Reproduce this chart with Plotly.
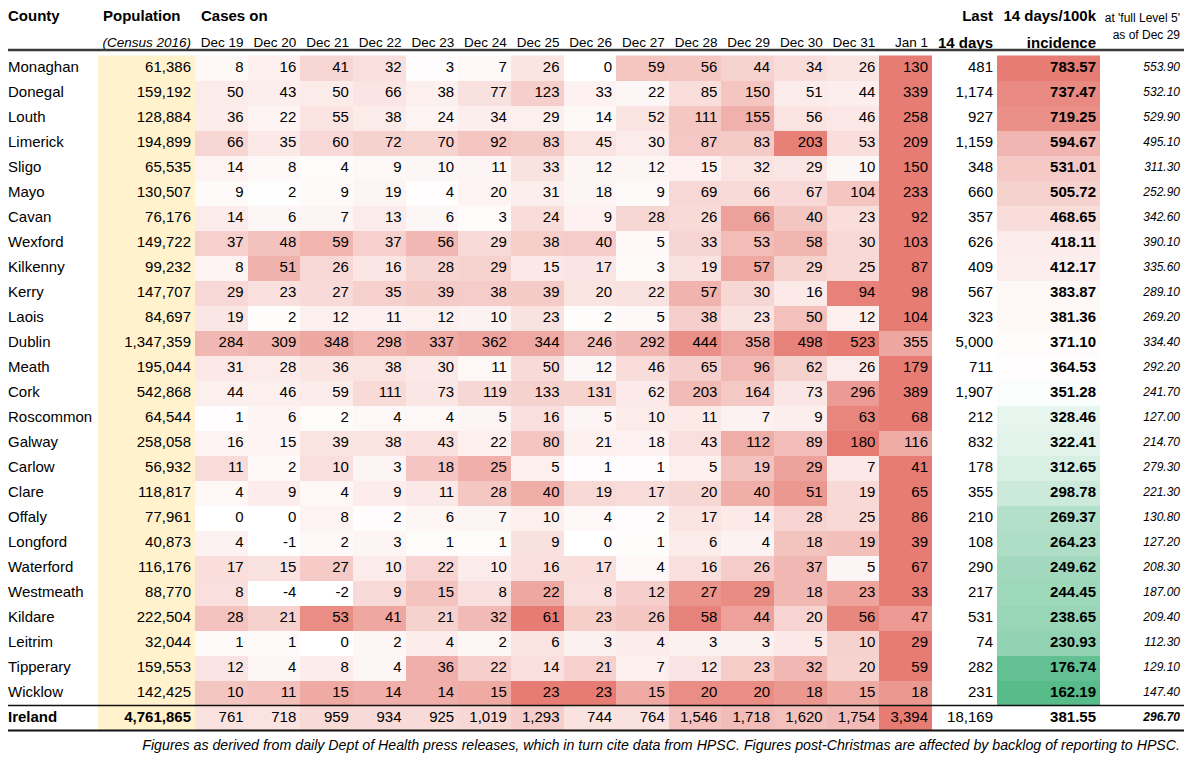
import numpy as np
import plotly.graph_objects as go

# ---------------- data ----------------
counties = ["Monaghan", "Donegal", "Louth", "Limerick", "Sligo", "Mayo", "Cavan", "Wexford",
            "Kilkenny", "Kerry", "Laois", "Dublin", "Meath", "Cork", "Roscommon", "Galway",
            "Carlow", "Clare", "Offaly", "Longford", "Waterford", "Westmeath", "Kildare",
            "Leitrim", "Tipperary", "Wicklow"]
population = [61386, 159192, 128884, 194899, 65535, 130507, 76176, 149722, 99232, 147707,
              84697, 1347359, 195044, 542868, 64544, 258058, 56932, 118817, 77961, 40873,
              116176, 88770, 222504, 32044, 159553, 142425]
dates = ["Dec 19", "Dec 20", "Dec 21", "Dec 22", "Dec 23", "Dec 24", "Dec 25", "Dec 26",
         "Dec 27", "Dec 28", "Dec 29", "Dec 30", "Dec 31", "Jan 1"]
cases = [
    [8, 16, 41, 32, 3, 7, 26, 0, 59, 56, 44, 34, 26, 130],
    [50, 43, 50, 66, 38, 77, 123, 33, 22, 85, 150, 51, 44, 339],
    [36, 22, 55, 38, 24, 34, 29, 14, 52, 111, 155, 56, 46, 258],
    [66, 35, 60, 72, 70, 92, 83, 45, 30, 87, 83, 203, 53, 209],
    [14, 8, 4, 9, 10, 11, 33, 12, 12, 15, 32, 29, 10, 150],
    [9, 2, 9, 19, 4, 20, 31, 18, 9, 69, 66, 67, 104, 233],
    [14, 6, 7, 13, 6, 3, 24, 9, 28, 26, 66, 40, 23, 92],
    [37, 48, 59, 37, 56, 29, 38, 40, 5, 33, 53, 58, 30, 103],
    [8, 51, 26, 16, 28, 29, 15, 17, 3, 19, 57, 29, 25, 87],
    [29, 23, 27, 35, 39, 38, 39, 20, 22, 57, 30, 16, 94, 98],
    [19, 2, 12, 11, 12, 10, 23, 2, 5, 38, 23, 50, 12, 104],
    [284, 309, 348, 298, 337, 362, 344, 246, 292, 444, 358, 498, 523, 355],
    [31, 28, 36, 38, 30, 11, 50, 12, 46, 65, 96, 62, 26, 179],
    [44, 46, 59, 111, 73, 119, 133, 131, 62, 203, 164, 73, 296, 389],
    [1, 6, 2, 4, 4, 5, 16, 5, 10, 11, 7, 9, 63, 68],
    [16, 15, 39, 38, 43, 22, 80, 21, 18, 43, 112, 89, 180, 116],
    [11, 2, 10, 3, 18, 25, 5, 1, 1, 5, 19, 29, 7, 41],
    [4, 9, 4, 9, 11, 28, 40, 19, 17, 20, 40, 51, 19, 65],
    [0, 0, 8, 2, 6, 7, 10, 4, 2, 17, 14, 28, 25, 86],
    [4, -1, 2, 3, 1, 1, 9, 0, 1, 6, 4, 18, 19, 39],
    [17, 15, 27, 10, 22, 10, 16, 17, 4, 16, 26, 37, 5, 67],
    [8, -4, -2, 9, 15, 8, 22, 8, 12, 27, 29, 18, 23, 33],
    [28, 21, 53, 41, 21, 32, 61, 23, 26, 58, 44, 20, 56, 47],
    [1, 1, 0, 2, 4, 2, 6, 3, 4, 3, 3, 5, 10, 29],
    [12, 4, 8, 4, 36, 22, 14, 21, 7, 12, 23, 32, 20, 59],
    [10, 11, 15, 14, 14, 15, 23, 23, 15, 20, 20, 18, 15, 18],
]
last14 = [481, 1174, 927, 1159, 348, 660, 357, 626, 409, 567, 323, 5000, 711, 1907, 212, 832,
          178, 355, 210, 108, 290, 217, 531, 74, 282, 231]
incidence = [783.57, 737.47, 719.25, 594.67, 531.01, 505.72, 468.65, 418.11, 412.17, 383.87,
             381.36, 371.10, 364.53, 351.28, 328.46, 322.41, 312.65, 298.78, 269.37, 264.23,
             249.62, 244.45, 238.65, 230.93, 176.74, 162.19]
level5 = [553.90, 532.10, 529.90, 495.10, 311.30, 252.90, 342.60, 390.10, 335.60, 289.10,
          269.20, 334.40, 292.20, 241.70, 127.00, 214.70, 279.30, 221.30, 130.80, 127.20,
          208.30, 187.00, 209.40, 112.30, 129.10, 147.40]
total_name = "Ireland"
total_population = 4761865
total_cases = [761, 718, 959, 934, 925, 1019, 1293, 744, 764, 1546, 1718, 1620, 1754, 3394]
total_last14 = 18169
total_incidence = 381.55
total_level5 = 296.70

footnote = ("Figures as derived from daily Dept of Health press releases, which in turn cite data "
            "from HPSC. Figures post-Christmas are affected by backlog of reporting to HPSC.")

# ---------------- styling / geometry ----------------
FONT = "Liberation Sans, Arial, Helvetica, sans-serif"
W, H = 1200, 763
OFFSET = 8                    # page body margin
ROW0, PITCH = 68, 25          # screen y of first row centre, row pitch
RED, WHITE, GREEN, CREAM = "#E67C73", "#FFFFFF", "#57BB8A", "#FFF2CC"
PAD = 4

def py(p):
    return (p - ROW0) / PITCH

name_x = 8
pop_edges = [98, 195]
day_w = (932 - 195) / len(dates)
day_edges = [195 + day_w * k for k in range(len(dates) + 1)]
last_edges = [932, 997]
inc_edges = [997, 1100]
lvl_edges = [1100, 1184]

all_names = counties + [total_name]
all_pop = population + [total_population]
all_cases = cases + [total_cases]
all_last = last14 + [total_last14]
all_inc = incidence + [total_incidence]
all_lvl = level5 + [total_level5]
n = len(all_names)
rows = list(range(n))
tot = n - 1

fig = go.Figure()

# population column fill
fig.add_trace(go.Heatmap(x=pop_edges, y=rows, z=[[1] for _ in rows],
                         colorscale=[[0, CREAM], [1, CREAM]], showscale=False,
                         hoverinfo="skip", zmin=0, zmax=1))

# daily cases: per-row scale white (0) -> red (row max)
arr = np.array(all_cases, dtype=float)
zday = np.clip(arr, 0, None) / arr.max(axis=1, keepdims=True)
fig.add_trace(go.Heatmap(x=day_edges, y=rows, z=zday.tolist(),
                         colorscale=[[0, WHITE], [1, RED]], zmin=0, zmax=1,
                         showscale=False, hoverinfo="skip"))

# incidence: green (min) - white (median) - red (max)
inc = np.array(incidence)
lo, mid, hi = inc.min(), np.median(inc), inc.max()
zinc = np.where(inc < mid, 0.5 * (inc - lo) / (mid - lo), 0.5 + 0.5 * (inc - mid) / (hi - mid))
fig.add_trace(go.Heatmap(x=inc_edges, y=list(range(len(incidence))), z=[[v] for v in zinc],
                         colorscale=[[0, GREEN], [0.5, WHITE], [1, RED]], zmin=0, zmax=1,
                         showscale=False, hoverinfo="skip"))

def bold_if(s, i):
    return f"<b>{s}</b>" if i == tot else s

def add_text(xs, ys, texts, pos, size=15, color="black"):
    fig.add_trace(go.Scatter(x=xs, y=ys, text=texts, mode="text", textposition=pos,
                             textfont=dict(family=FONT, size=size, color=color),
                             hoverinfo="skip", cliponaxis=False, showlegend=False))

# body text
add_text([name_x] * n, rows, [bold_if(s, i) for i, s in enumerate(all_names)], "middle right")
add_text([pop_edges[1] - PAD] * n, rows, [bold_if(f"{v:,}", i) for i, v in enumerate(all_pop)],
         "middle left")
xs, ys, ts = [], [], []
for i, rowv in enumerate(all_cases):
    for j, v in enumerate(rowv):
        xs.append(day_edges[j + 1] - PAD)
        ys.append(i)
        ts.append(f"{v:,}")
add_text(xs, ys, ts, "middle left")
add_text([last_edges[1] - PAD] * n, rows, [f"{v:,}" for v in all_last], "middle left")
add_text([inc_edges[1] - PAD] * n, rows, [f"<b>{v:.2f}</b>" for v in all_inc], "middle left")
add_text([lvl_edges[1] - PAD] * n, rows,
         [(f"<b><i>{v:.2f}</i></b>" if i == tot else f"<i>{v:.2f}</i>") for i, v in enumerate(all_lvl)],
         "middle left", size=12)

# header text
y1, y2 = py(17), py(44)
add_text([name_x, 103, 201], [y1] * 3, ["<b>County</b>", "<b>Population</b>", "<b>Cases on</b>"],
         "middle right")
add_text([pop_edges[1] - PAD], [y2], ["<i>(Census 2016)</i>"], "middle left", size=13.5)
add_text([e - PAD for e in day_edges[1:]], [y2] * len(dates), dates, "middle left", size=13.5)
add_text([last_edges[1] - PAD] * 2 + [inc_edges[1] - PAD] * 2, [y1, y2, y1, y2],
         ["<b>Last</b>", "<b>14 days</b>", "<b>14 days/100k</b>", "<b>incidence</b>"],
         "middle left")
add_text([lvl_edges[1] - PAD] * 2, [py(19), py(36)], ["at 'full Level 5'", "as of Dec 29"],
         "middle left", size=12)

# footnote
add_text([lvl_edges[1] - PAD], [py(746)], [f"<i>{footnote}</i>"], "middle left", size=14.2)

# rules
for yv, wdt, col in [(py(50), 2.5, "#3a3a3a"), (tot - 0.5, 1.5, "#111111"), (tot + 0.5, 2, "#111111")]:
    fig.add_shape(type="line", x0=name_x, x1=lvl_edges[1], y0=yv, y1=yv, xref="x", yref="y",
                  line=dict(color=col, width=wdt), layer="above")

fig.update_layout(
    width=W, height=H, margin=dict(l=0, r=0, t=0, b=0),
    paper_bgcolor="white", plot_bgcolor="white", showlegend=False,
    xaxis=dict(range=[OFFSET, W + OFFSET], visible=False, fixedrange=True),
    yaxis=dict(range=[py(H + OFFSET), py(OFFSET)], visible=False, fixedrange=True),
)
fig.write_html("out.html")
